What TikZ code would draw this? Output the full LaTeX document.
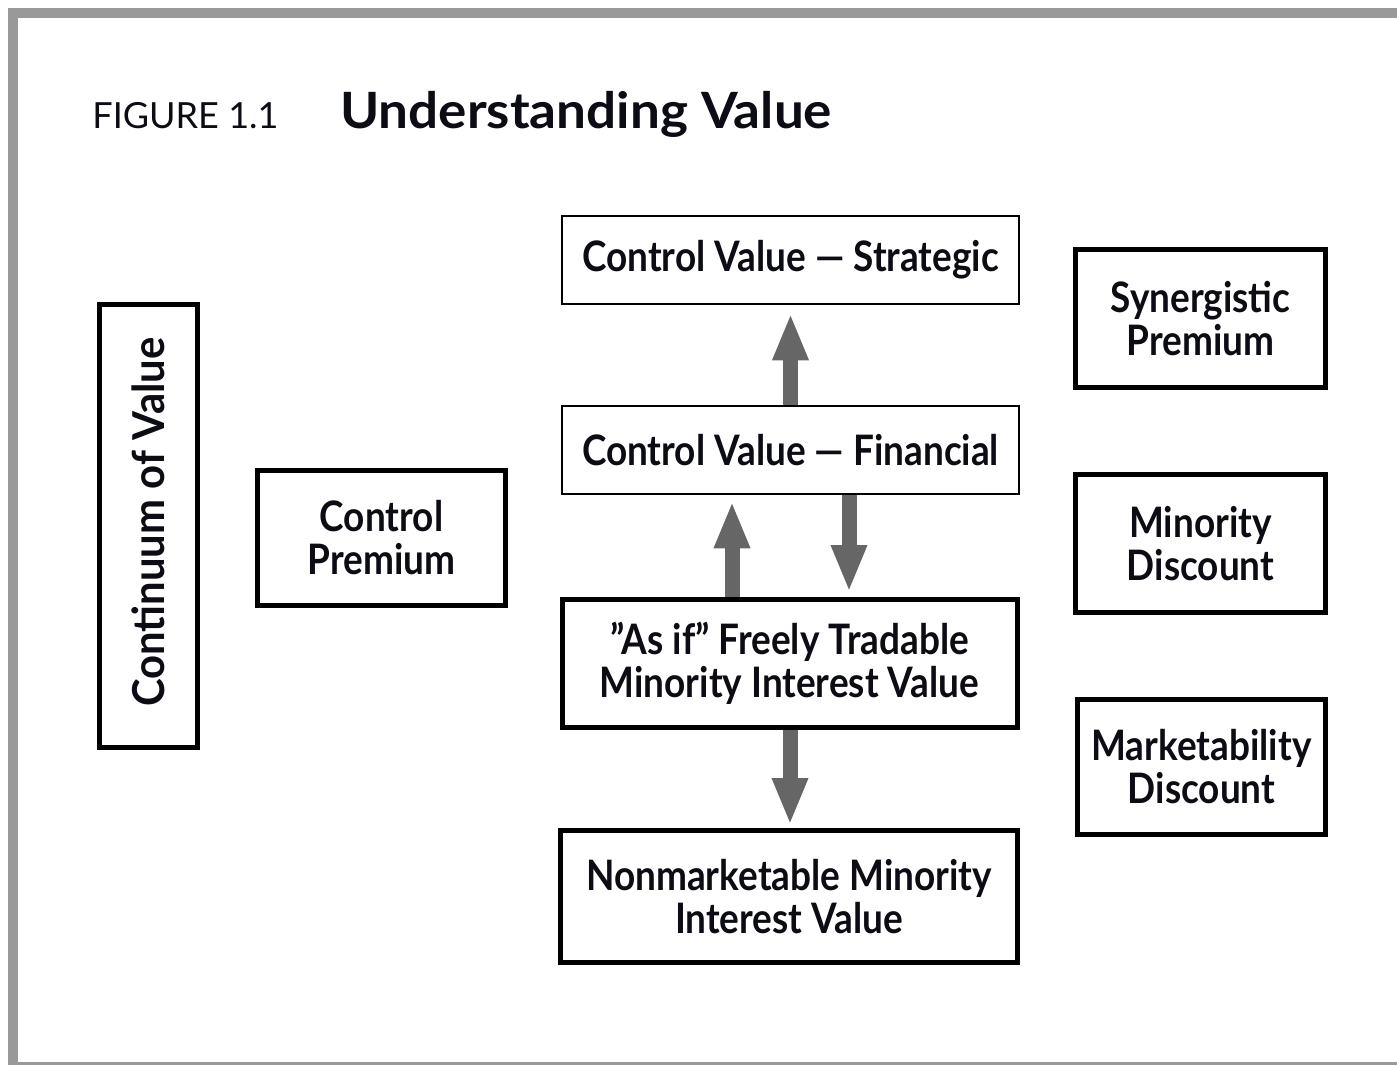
\documentclass[tikz,border=0pt]{standalone}
\usepackage{fontspec}
\setmainfont{Lato}
\newfontfamily\boxfont{Lato}[FakeStretch=0.88]
\newfontfamily\contfont{Lato}[FakeStretch=0.95]
\newfontfamily\titlefont{Lato}[FakeStretch=1.06]
\newfontfamily\figfont{Lato}
\usetikzlibrary{arrows.meta,calc}
\definecolor{framegray}{RGB}{153,153,153}
\definecolor{arrowgray}{RGB}{102,102,102}
\definecolor{inkcol}{RGB}{12,12,20}
\begin{document}
\begin{tikzpicture}[x=0.5pt,y=-0.5pt,
  sz/.style 2 args={minimum width=#1*0.5pt, minimum height=#2*0.5pt},
  box/.style={draw=black, line width=2.5pt, inner sep=0pt, align=center, text=inkcol,
    font=\boxfont\bfseries\fontsize{21}{21.5}\selectfont},
  thinbox/.style={box, line width=1.3pt},
  bigarrow/.style={draw=arrowgray, line width=7.5pt,
    -{Triangle[width=16.5pt,length=23.5pt]}}]
\useasboundingbox (0,0) rectangle (1397,1065);
\clip (0,0) rectangle (1397,1065);
\fill[white] (0,0) rectangle (1397,1065);
% frame
\draw[framegray, line width=5pt] (12.5,13) rectangle (1420,1067);
% title
\node[anchor=base west, inner sep=0pt, text=inkcol, font=\figfont\fontsize{18}{18}\selectfont] (fig) at (92,128) {FIGURE 1.1};
\node[anchor=base west, inner sep=0pt, text=inkcol, font=\titlefont\bfseries\fontsize{25}{25}\selectfont] (title) at (340,128) {Understanding Value};
% boxes
\node[thinbox, sz={457}{88}] (strat) at (790.5,260) {Control Value — Strategic};
\node[thinbox, sz={457}{88}] (fin) at (790.5,450) {Control Value — Financial};
\node[box, sz={455}{128}] (asif) at (789.5,663.5) {”As if” Freely Tradable\\Minority Interest Value};
\node[box, sz={457}{132}] (nonm) at (789,896.5) {Nonmarketable Minority\\Interest Value};
\node[box, sz={248}{135}] (cp) at (381.5,538) {Control\\Premium};
\node[box, sz={98}{443}] (cont) at (148.5,526) {};
\node[rotate=90, inner sep=0pt, text=inkcol, font=\contfont\bfseries\fontsize{22}{22}\selectfont] (contlabel) at (148,522) {Continuum of Value};
\node[box, sz={250}{138}] (syn) at (1200.5,318.5) {Synergistic\\Premium};
\node[box, sz={250}{138}] (mind) at (1200.5,543.5) {Minority\\Discount};
\node[box, sz={248}{135}] (mkt) at (1201.5,767) {Marketability\\Discount};
% arrows
\draw[bigarrow, shorten >=4pt] (fin.north) -- (strat.south);
\draw[bigarrow, shorten >=3pt] ($(asif.north)+(-57.5,0)$) -- ($(fin.south)+(-58.5,0)$);
\draw[bigarrow, shorten >=2.5pt] ($(fin.south)+(58.5,0)$) -- ($(asif.north)+(59.5,0)$);
\draw[bigarrow, shorten >=1.5pt] ($(asif.south)+(0.5,0)$) -- ($(nonm.north)+(1,0)$);
\end{tikzpicture}
\end{document}
